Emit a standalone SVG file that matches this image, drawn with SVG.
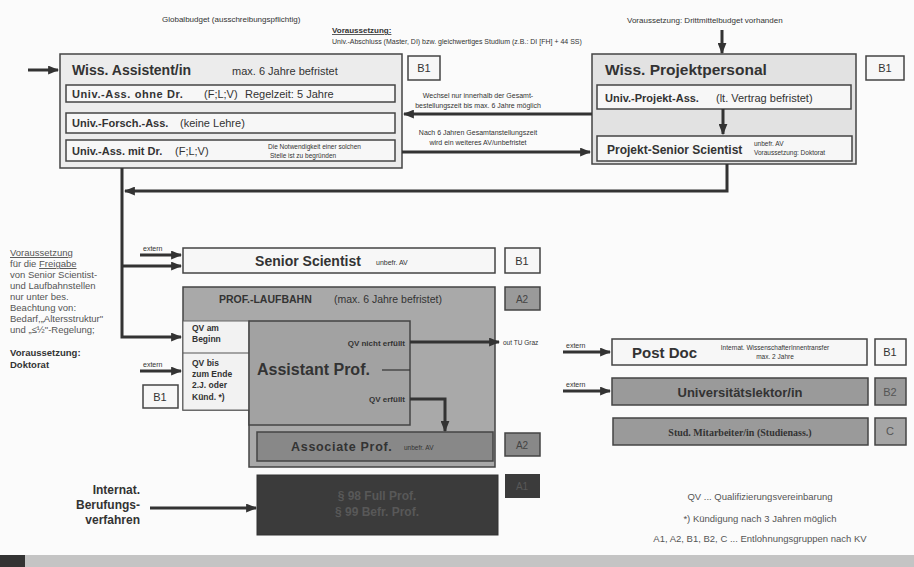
<svg xmlns="http://www.w3.org/2000/svg" width="914" height="567" viewBox="0 0 914 567">
<style>
.t{font-family:"Liberation Sans",Arial,sans-serif;fill:#333}
.b{font-weight:bold}
.s{font-size:7px}
.m{font-size:11px}
.box{stroke:#444;stroke-width:1.5}
.lt{fill:#ececec}
.wh{fill:#f7f7f7}
.g1{fill:#a9a9a9}
.g2{fill:#9a9a9a}
.g3{fill:#888}
.dk{fill:#3b3b3b}
.conn path{fill:none;stroke:#333;stroke-width:3}
.grey{fill:#555}
</style>
<defs>
<marker id="ah" viewBox="0 0 10 8" refX="9" refY="4" markerWidth="11" markerHeight="9" markerUnits="userSpaceOnUse" orient="auto"><path d="M0,0L10,4L0,8z" fill="#333"/></marker>
</defs>
<rect width="914" height="567" fill="#fbfbfb"/>

<!-- top notes -->
<g id="notes-top">
<text class="t" x="162" y="22" font-size="8">Globalbudget (ausschreibungspflichtig)</text>
<text class="t b" x="332" y="33" font-size="8" text-decoration="underline">Voraussetzung:</text>
<text class="t" x="332" y="44" font-size="7">Univ.-Abschluss (Master, DI) bzw. gleichwertiges Studium (z.B.: DI [FH] + 44 SS)</text>
<text class="t" x="627" y="23" font-size="8">Voraussetzung: Drittmittelbudget vorhanden</text>
</g>

<!-- Wiss. Assistent/in -->
<g id="wiss-assistent">
<rect class="box lt" x="60" y="54" width="342" height="114"/>
<text class="t b" x="72" y="75" font-size="14">Wiss. Assistent/in</text>
<text class="t m" x="232" y="75">max. 6 Jahre befristet</text>
<rect class="box wh" x="66" y="85" width="329" height="17"/>
<text class="t m" y="98"><tspan class="b" x="72" letter-spacing="0.6">Univ.-Ass.  ohne Dr.</tspan><tspan x="204">(F;L;V)</tspan><tspan x="245">Regelzeit: 5 Jahre</tspan></text>
<rect class="box wh" x="66" y="113" width="329" height="20"/>
<text class="t m" y="127"><tspan class="b" x="72">Univ.-Forsch.-Ass.</tspan><tspan x="180">(keine Lehre)</tspan></text>
<rect class="box wh" x="66" y="140" width="329" height="21"/>
<text class="t m" y="155"><tspan class="b" x="72">Univ.-Ass.  mit Dr.</tspan><tspan x="175">(F;L;V)</tspan></text>
<text class="t" x="268" y="149" font-size="6.5">Die Notwendigkeit einer solchen</text>
<text class="t" x="270" y="158" font-size="6.5">Stelle ist zu begründen</text>
</g>
<g id="b1-top-left">
<rect class="box wh" x="408" y="56" width="32" height="24" stroke-width="1"/>
<text class="t m" x="424" y="72" text-anchor="middle">B1</text>
</g>

<!-- Wiss. Projektpersonal -->
<g id="wiss-projekt">
<rect class="box" fill="#e2e2e2" x="592" y="54" width="264" height="110"/>
<text class="t b" x="605" y="75" font-size="15.5">Wiss. Projektpersonal</text>
<rect class="box wh" x="597" y="85" width="254" height="24"/>
<text class="t m" y="102"><tspan class="b" x="605">Univ.-Projekt-Ass.</tspan><tspan x="716">(lt. Vertrag befristet)</tspan></text>
<rect class="box wh" x="597" y="136" width="255" height="25"/>
<text class="t b" x="607" y="154" font-size="12">Projekt-Senior Scientist</text>
<text class="t" x="754" y="146" font-size="6.5">unbefr. AV</text>
<text class="t" x="754" y="155" font-size="6.5">Voraussetzung: Doktorat</text>
</g>
<g id="b1-top-right">
<rect class="box wh" x="866" y="56" width="38" height="24" stroke-width="1"/>
<text class="t m" x="885" y="72" text-anchor="middle">B1</text>
</g>

<g id="conn-labels">
<text class="t s" x="478" y="98" text-anchor="middle">Wechsel nur innerhalb der Gesamt-</text>
<text class="t s" x="478" y="108" text-anchor="middle">bestellungszeit bis max. 6 Jahre möglich</text>
<text class="t s" x="478" y="135" text-anchor="middle">Nach 6 Jahren Gesamtanstellungszeit</text>
<text class="t s" x="478" y="145" text-anchor="middle">wird ein weiteres AV/unbefristet</text>
<text class="t" x="143" y="251" font-size="7">extern</text>
<text class="t" x="143" y="367" font-size="7">extern</text>
<text class="t" x="503" y="345" font-size="6.5">out TU Graz</text>
<text class="t" x="566" y="348" font-size="7">extern</text>
<text class="t" x="566" y="387" font-size="7">extern</text>
</g>

<!-- left note -->
<g id="note-left" class="grey">
<text class="t" font-size="9.5" style="fill:#555">
<tspan x="10" y="256" text-decoration="underline">Voraussetzung</tspan>
<tspan x="10" y="267">für die </tspan><tspan text-decoration="underline">Freigabe</tspan>
<tspan x="10" y="278">von Senior Scientist-</tspan>
<tspan x="10" y="289">und Laufbahnstellen</tspan>
<tspan x="10" y="300">nur unter bes.</tspan>
<tspan x="10" y="311">Beachtung von:</tspan>
<tspan x="10" y="322">Bedarf,„Altersstruktur"</tspan>
<tspan x="10" y="333">und „≤½"-Regelung;</tspan>
</text>
<text class="t b" font-size="9.5" x="10" y="356">Voraussetzung:</text>
<text class="t b" font-size="9.5" x="10" y="368">Doktorat</text>
</g>

<!-- Senior Scientist -->
<g id="senior-scientist">
<rect class="box wh" x="183" y="248" width="312" height="25"/>
<text class="t b" x="308" y="266" font-size="14" text-anchor="middle">Senior Scientist</text>
<text class="t" x="376" y="265" font-size="7">unbefr. AV</text>
</g>
<g id="b1-senior">
<rect class="box wh" x="505" y="248" width="35" height="25" stroke-width="1"/>
<text class="t m" x="522" y="265" text-anchor="middle">B1</text>
</g>

<!-- Prof Laufbahn -->
<g id="prof-laufbahn">
<path class="box g1" d="M183,287H495V467H249V410H183Z"/>
<text class="t b" x="219" y="303" font-size="10.5">PROF.-LAUFBAHN</text>
<text class="t" x="334" y="303" font-size="10.5">(max. 6 Jahre befristet)</text>
<rect fill="#f2f2f2" stroke="#666" stroke-width="1" x="183" y="321" width="66" height="89"/>
<line x1="183" y1="353" x2="249" y2="353" stroke="#555" stroke-width="1.2"/>
<text class="t b" font-size="8.5"><tspan x="192" y="331">QV am</tspan><tspan x="192" y="342">Beginn</tspan></text>
<text class="t b" font-size="8.5"><tspan x="192" y="366">QV bis</tspan><tspan x="192" y="377">zum Ende</tspan><tspan x="192" y="388">2.J. oder</tspan><tspan x="192" y="400">Künd. *)</tspan></text>
</g>
<g id="assistant-prof">
<rect class="box" fill="#a2a2a2" x="249" y="321" width="161" height="104"/>
<text class="t b" x="257" y="375" font-size="16">Assistant Prof.</text>
<line x1="382" y1="370" x2="410" y2="370" stroke="#333" stroke-width="1.2"/>
<text class="t b" x="405" y="346" font-size="8" text-anchor="end">QV nicht erfüllt</text>
<text class="t b" x="405" y="402" font-size="8" text-anchor="end">QV erfüllt</text>
</g>
<g id="associate-prof">
<rect class="box g3" x="257" y="432" width="236" height="29"/>
<text class="t b" x="291" y="451" font-size="12.5" letter-spacing="0.7">Associate Prof.</text>
<text class="t" x="404" y="450" font-size="6.5">unbefr. AV</text>
</g>
<g id="a2-prof">
<rect class="box g2" x="505" y="287" width="35" height="23" stroke-width="1"/>
<text class="t" x="522" y="303" font-size="10" text-anchor="middle" style="fill:#444">A2</text>
</g>
<g id="a2-assoc">
<rect class="box g3" x="505" y="433" width="35" height="23" stroke-width="1"/>
<text class="t" x="522" y="449" font-size="10" text-anchor="middle" style="fill:#444">A2</text>
</g>
<g id="b1-ext">
<rect class="box wh" x="143" y="385" width="35" height="23" stroke-width="1"/>
<text class="t m" x="160" y="401" text-anchor="middle">B1</text>
</g>

<!-- Full Prof -->
<g id="full-prof">
<rect class="dk" x="257" y="475" width="241" height="60" stroke="#333" stroke-width="1"/>
<text class="t b" x="377" y="500" font-size="12" text-anchor="middle" style="fill:#585858">§ 98 Full Prof.</text>
<text class="t b" x="377" y="516" font-size="12" text-anchor="middle" style="fill:#585858">§ 99 Befr. Prof.</text>
</g>
<g id="a1">
<rect class="dk" x="505" y="474" width="35" height="24"/>
<text class="t" x="522" y="490" font-size="10" text-anchor="middle" style="fill:#585858">A1</text>
</g>
<g id="berufung">
<text class="t b" font-size="12" text-anchor="end"><tspan x="140" y="494">Internat.</tspan><tspan x="140" y="509">Berufungs-</tspan><tspan x="140" y="524">verfahren</tspan></text>
</g>

<!-- Right side -->
<g id="post-doc">
<rect class="box wh" x="612" y="339" width="255" height="26"/>
<text class="t b" x="632" y="358" font-size="15">Post Doc</text>
<text class="t" x="775" y="350" font-size="6.5" text-anchor="middle">Internat. WissenschafterInnentransfer</text>
<text class="t" x="775" y="359" font-size="6.5" text-anchor="middle">max. 2 Jahre</text>
</g>
<g id="b1-postdoc">
<rect class="box wh" x="875" y="339" width="31" height="26" stroke-width="1"/>
<text class="t m" x="890" y="356" text-anchor="middle">B1</text>
</g>
<g id="lektor">
<rect class="box g2" x="612" y="378" width="256" height="27"/>
<text class="t b" x="740" y="397" font-size="13" text-anchor="middle">Universitätslektor/in</text>
</g>
<g id="b2">
<rect class="box g2" x="875" y="378" width="31" height="27" stroke-width="1"/>
<text class="t m" x="890" y="396" text-anchor="middle" style="fill:#555">B2</text>
</g>
<g id="stud">
<rect class="box g2" x="613" y="418" width="255" height="27"/>
<text x="740" y="436" font-size="10" font-weight="bold" text-anchor="middle" font-family="Liberation Serif,serif" fill="#333">Stud. Mitarbeiter/in (Studienass.)</text>
</g>
<g id="c">
<rect class="box" fill="#a5a5a5" x="875" y="418" width="31" height="27" stroke-width="1"/>
<text class="t m" x="890" y="435" text-anchor="middle" style="fill:#555">C</text>
</g>

<g id="legend">
<text class="t" x="760" y="500" font-size="9.5" text-anchor="middle" style="fill:#555">QV ...  Qualifizierungsvereinbarung</text>
<text class="t" x="760" y="522" font-size="9.5" text-anchor="middle" style="fill:#555">*)  Kündigung nach 3 Jahren möglich</text>
<text class="t" x="760" y="542" font-size="9.5" text-anchor="middle" style="fill:#555">A1, A2, B1, B2, C ...  Entlohnungsgruppen nach KV</text>
</g>

<g id="footer">
<rect x="0" y="555" width="914" height="12" fill="#c4c4c4"/>
<rect x="0" y="555" width="25" height="12" fill="#333"/>
</g>

<g id="connectors" class="conn">
<path d="M28,70H58" marker-end="url(#ah)"/>
<path d="M722,30V53" marker-end="url(#ah)"/>
<path d="M592,114H404" marker-end="url(#ah)"/>
<path d="M402,152H590" marker-end="url(#ah)"/>
<path d="M723,109V134" marker-end="url(#ah)"/>
<path d="M727,164V191H125" marker-end="url(#ah)"/>
<path d="M122,168V337H181" marker-end="url(#ah)"/>
<path d="M122,266H181" marker-end="url(#ah)"/>
<path d="M140,255H181" marker-end="url(#ah)"/>
<path d="M140,371H181" marker-end="url(#ah)"/>
<path d="M410,342H499" marker-end="url(#ah)"/>
<path d="M410,399H445V431" marker-end="url(#ah)"/>
<path d="M563,352H610" marker-end="url(#ah)"/>
<path d="M563,391H610" marker-end="url(#ah)"/>
<path d="M150,508H256" marker-end="url(#ah)"/>
</g>
</svg>
